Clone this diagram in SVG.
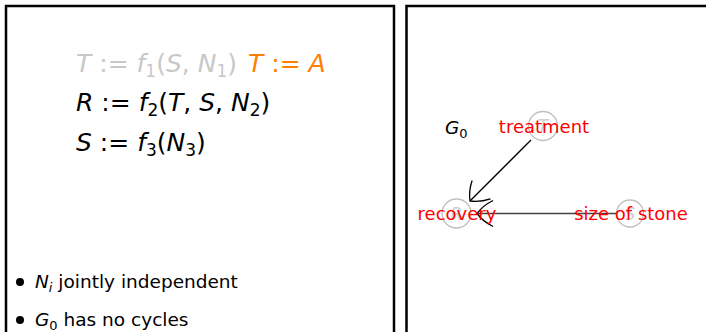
<svg xmlns="http://www.w3.org/2000/svg" width="706" height="332" viewBox="0 0 706 332">
<style>
.panel{fill:#fff;stroke:#000;stroke-width:2.5}
.math{font-family:"DejaVu Sans","Liberation Sans",sans-serif;font-size:25px}
.it{font-style:italic}
.sub{font-size:17px}
.body{font-family:"DejaVu Sans","Liberation Sans",sans-serif;font-size:18.5px}
.lbl{font-family:"DejaVu Sans","Liberation Sans",sans-serif;font-size:18px;fill:#ff0000;text-anchor:middle}
.nodec{fill:none;stroke:#c0c0c0;stroke-width:1.3}
.nodel{font-family:"DejaVu Sans","Liberation Sans",sans-serif;font-size:17px;font-style:italic;fill:#d0d0d0;text-anchor:middle}
</style>
<defs>
<marker id="to" markerUnits="userSpaceOnUse" markerWidth="30" markerHeight="34" viewBox="-20 -17 24 34" refX="0" refY="0" orient="auto">
<path d="M -16 -13 C -10 -10 -3 -4 0 0 C -3 4 -10 10 -16 13" fill="none" stroke="#000" stroke-width="1.3"/>
</marker>
</defs>
<rect width="706" height="332" fill="#fff"/>
<rect id="left-panel" class="panel" x="6" y="6" width="388" height="340"/>
<rect id="right-panel" class="panel" x="406.5" y="6" width="320" height="340"/>

<g id="equations">
<text class="math" x="76" y="72" fill="#c8c8c8"><tspan class="it">T</tspan> := <tspan class="it">f</tspan><tspan class="sub" dy="5">1</tspan><tspan dy="-5">(</tspan><tspan class="it">S</tspan>, <tspan class="it">N</tspan><tspan class="sub" dy="5">1</tspan><tspan dy="-5">)</tspan></text>
<text class="math" x="248" y="72" fill="#ff8000"><tspan class="it">T</tspan> := <tspan class="it">A</tspan></text>
<text class="math" x="76" y="111" fill="#000"><tspan class="it">R</tspan> := <tspan class="it">f</tspan><tspan class="sub" dy="5">2</tspan><tspan dy="-5">(</tspan><tspan class="it">T</tspan>, <tspan class="it">S</tspan>, <tspan class="it">N</tspan><tspan class="sub" dy="5">2</tspan><tspan dy="-5">)</tspan></text>
<text class="math" x="76" y="151" fill="#000"><tspan class="it">S</tspan> := <tspan class="it">f</tspan><tspan class="sub" dy="5">3</tspan><tspan dy="-5">(</tspan><tspan class="it">N</tspan><tspan class="sub" dy="5">3</tspan><tspan dy="-5">)</tspan></text>
</g>

<g id="bullets">
<circle cx="20" cy="282" r="4"/>
<text class="body" x="35" y="288"><tspan class="it">N</tspan><tspan font-size="13" class="it" dy="4">i</tspan><tspan dy="-4"> jointly independent</tspan></text>
<circle cx="20" cy="320" r="4"/>
<text class="body" x="35" y="326"><tspan class="it">G</tspan><tspan font-size="13" dy="4">0</tspan><tspan dy="-4"> has no cycles</tspan></text>
</g>

<g id="g0-label">
<text class="body" x="445" y="134"><tspan class="it">G</tspan><tspan font-size="13" dy="4">0</tspan></text>
</g>

<g id="connectors">
<line x1="531" y1="140" x2="470" y2="201" stroke="#000" stroke-width="1.3" marker-end="url(#to)"/>
<line x1="616" y1="213.5" x2="477" y2="213.5" stroke="#444" stroke-width="1.7" marker-end="url(#to)"/>
</g>

<g id="node-T">
<circle class="nodec" cx="543" cy="126" r="14.5"/>
<text class="nodel" x="543" y="132">T</text>
<text class="lbl" x="544" y="133">treatment</text>
</g>
<g id="node-R">
<circle class="nodec" cx="456.5" cy="213.5" r="14.5"/>
<text class="nodel" x="456.5" y="219.5">R</text>
<text class="lbl" x="457" y="220">recovery</text>
</g>
<g id="node-S">
<circle class="nodec" cx="630" cy="213.5" r="13.5"/>
<text class="nodel" x="630" y="219.5">S</text>
<text class="lbl" x="631" y="220">size of stone</text>
</g>
</svg>
